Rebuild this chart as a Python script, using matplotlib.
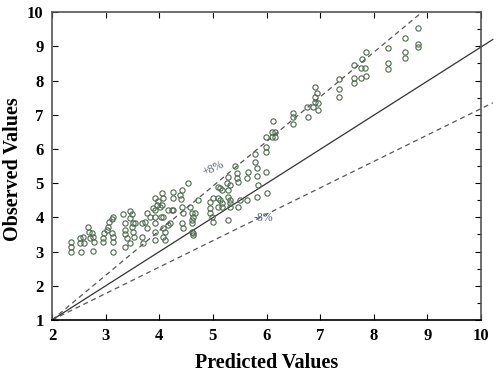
import numpy as np
import matplotlib.pyplot as plt

pred = [2.35, 2.35, 2.35, 2.52, 2.52, 2.54, 2.58, 2.60, 2.67, 2.69, 2.75, 2.76, 2.71, 2.78, 2.76,
        2.95, 2.97, 2.95, 3.03, 3.04, 3.06, 3.12, 3.14, 3.12, 3.14, 3.14, 3.14,
        3.32, 3.36, 3.36, 3.36, 3.40, 3.46, 3.49, 3.46, 3.51, 3.55, 3.49, 3.51, 3.53, 3.36, 3.46,
        4.54, 4.43, 4.39, 4.41, 4.26, 4.26, 4.05, 4.07, 3.92, 3.98, 3.96, 4.01, 4.05, 3.88, 3.92,
        3.77, 3.83, 3.92, 4.03, 4.07, 4.16, 4.24, 4.26, 4.43, 4.44, 4.57, 4.61, 4.63, 4.67, 4.72,
        4.61, 4.43, 4.44, 4.61, 4.61, 4.63, 4.95, 4.95, 4.95, 4.99, 5.00, 5.10, 5.10,
        3.68, 3.74, 3.77, 3.92, 3.92, 4.07, 4.11, 4.16, 4.20, 3.68, 3.70, 3.92, 4.07, 4.11, 4.63,
        5.45, 5.28, 5.47, 5.32, 5.17, 5.28, 5.00, 5.28, 5.32, 5.32, 5.17, 5.10, 5.32, 5.51, 5.47,
        5.28, 5.41, 5.45, 5.26, 5.13, 5.13, 5.17,
        8.83, 8.59, 8.83, 8.83, 8.59, 8.59, 8.27, 8.27, 8.27, 7.86, 7.78, 7.63, 7.76, 7.84, 7.86,
        7.76, 7.63, 7.63, 7.35, 7.35, 7.35, 6.91, 6.94, 6.91, 6.91, 6.96, 6.87, 6.96, 6.76, 6.78,
        6.50, 6.50, 6.50, 6.12, 6.10, 6.16, 6.10, 6.16, 5.99, 5.99, 5.99, 5.79, 5.79, 5.82, 5.82,
        5.99, 5.66, 5.64, 5.64, 5.82, 6.01, 5.84]
obs = [3.28, 3.13, 2.99, 3.40, 3.25, 2.99, 3.43, 3.25, 3.72, 3.57, 3.54, 3.43, 3.40, 3.28, 3.02,
       3.40, 3.54, 3.28, 3.63, 3.72, 3.87, 3.95, 4.01, 3.54, 3.43, 3.28, 2.99,
       4.10, 3.84, 3.63, 3.51, 3.40, 4.19, 4.10, 3.98, 3.84, 3.84, 3.72, 3.57, 3.43, 3.13, 3.25,
       5.01, 4.80, 4.65, 4.54, 4.74, 4.57, 4.71, 4.57, 4.57, 4.48, 4.36, 4.30, 4.36, 4.27, 4.22,
       4.13, 4.01, 4.01, 4.01, 4.01, 4.22, 4.22, 4.22, 4.30, 4.13, 4.30, 4.13, 4.01, 4.13, 4.51,
       3.92, 3.84, 3.69, 3.84, 3.57, 3.54, 4.45, 4.27, 4.13, 4.01, 3.87, 4.57, 4.89,
       3.84, 3.87, 3.69, 3.84, 3.57, 3.69, 3.57, 3.78, 3.84, 3.43, 3.25, 3.34, 3.43, 3.34, 3.49,
       5.30, 5.18, 5.04, 4.95, 4.80, 4.80, 4.57, 4.60, 4.51, 4.42, 4.42, 4.30, 4.30, 4.51, 4.30,
       3.92, 5.50, 5.15, 5.01, 4.86, 4.51, 4.30,
       9.54, 9.25, 9.07, 8.98, 8.84, 8.66, 8.95, 8.51, 8.34, 8.84, 8.63, 8.46, 8.37, 8.37, 8.13,
       8.08, 8.08, 7.93, 8.05, 7.75, 7.52, 7.81, 7.64, 7.52, 7.37, 7.35, 7.23, 7.14, 7.23, 6.94,
       7.05, 6.94, 6.73, 6.82, 6.50, 6.50, 6.35, 6.35, 6.35, 6.06, 5.91, 5.85, 5.62, 5.44, 5.21,
       5.33, 5.33, 5.15, 4.51, 4.60, 4.71, 4.95]

# droites : y = x (decalee), +8 % et -8 %
ligne_x = [2.0, 10.22]
ligne_y = [1.0, 9.2]
plus_x = [2.0, 8.9]
plus_y = [1.0, 10.0]
moins_x = [2.0, 10.22]
moins_y = [1.0, 7.35]

fig = plt.figure(figsize=(5, 3.8), dpi=100)
ax = fig.add_axes([0.104, 0.158, 0.858, 0.81])

ax.plot(pred, obs, 'o', ms=3.8, mfc='none', mec='#4d6b4d', mew=0.8, zorder=3)
ax.plot(ligne_x, ligne_y, '-', color='#333333', lw=0.9, clip_on=False)
ax.plot(plus_x, plus_y, '--', color='#555555', lw=0.9, dashes=(4, 3))
ax.plot(moins_x, moins_y, '--', color='#555555', lw=0.9, dashes=(4, 3), clip_on=False)

ax.text(4.78, 5.22, '+8%', fontsize=8.5, color='#55607a', rotation=25,
        family='Liberation Serif')
ax.text(5.76, 3.88, '-8%', fontsize=8.5, color='#55607a', family='Liberation Serif')

ax.set_xlim(2, 10)
ax.set_ylim(1, 10)
ax.set_xticks(range(2, 11))
ax.set_yticks(range(1, 11))
ax.set_yticks(np.arange(1.5, 10, 1), minor=True)
ax.tick_params(direction='in', length=4, width=0.8, top=True, right=True, pad=6,
               labelsize=12)
ax.tick_params(which='minor', direction='in', length=3, width=0.8, left=False, right=True)
for lab in ax.get_xticklabels() + ax.get_yticklabels():
    lab.set_fontfamily('Liberation Serif')
    lab.set_fontweight('bold')

for s in ['left', 'top', 'right']:
    ax.spines[s].set_color('#555555')
    ax.spines[s].set_linewidth(1.2)
ax.spines['bottom'].set_color('black')
ax.spines['bottom'].set_linewidth(1.2)

ax.set_xlabel('Predicted Values', fontsize=14.5, fontweight='bold',
              family='Liberation Serif', labelpad=6)
ax.set_ylabel('Observed Values', fontsize=14.5, fontweight='bold',
              family='Liberation Serif')
ax.yaxis.set_label_coords(-0.068, 0.49)

fig.savefig('out.png', dpi=100)
